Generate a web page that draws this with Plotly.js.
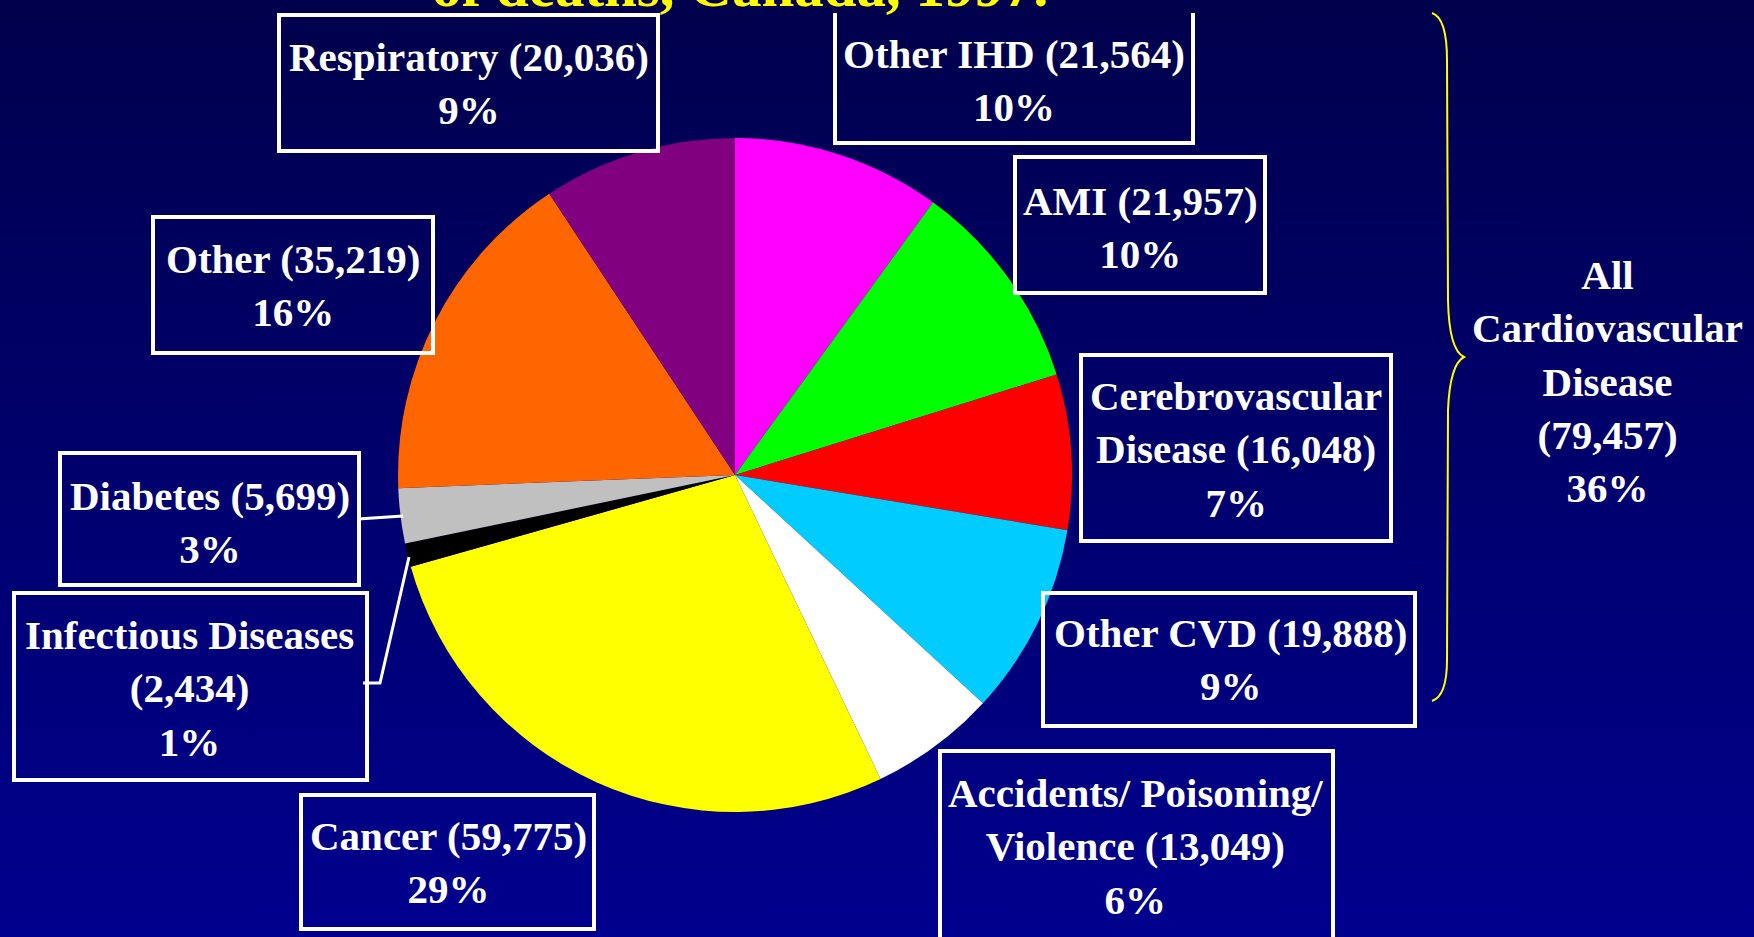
<!DOCTYPE html>
<html>
<head>
<meta charset="utf-8">
<script src="https://cdn.plot.ly/plotly-3.0.1.min.js"></script>
<style>
  html, body { margin: 0; padding: 0; width: 1754px; height: 937px; overflow: hidden; }
  body { background: linear-gradient(to bottom, #00004C 0%, #00008E 100%); }
  #chart { width: 1754px; height: 937px; }
</style>
</head>
<body>
<div id="chart"></div>
<script>
// ---- Data ----
const categories = ["Other IHD", "AMI", "Cerebrovascular Disease", "Other CVD",
  "Accidents/ Poisoning/ Violence", "Cancer", "Infectious Diseases", "Diabetes",
  "Other", "Respiratory"];
const deaths = [21564, 21957, 16048, 19888, 13049, 59775, 2434, 5699, 35219, 20036];
const percents = [10, 10, 7, 9, 6, 29, 1, 3, 16, 9];
const sliceColors = ["#FF00FF", "#00FF00", "#FF0000", "#00CCFF", "#FFFFFF",
  "#FFFF00", "#000000", "#C0C0C0", "#FF6600", "#800080"];
// how each label's name is broken over lines
const labelNames = ["Other IHD", "AMI", "Cerebrovascular<br>Disease", "Other CVD",
  "Accidents/ Poisoning/<br>Violence", "Cancer", "Infectious Diseases<br>", "Diabetes",
  "Other", "Respiratory"];
const groupName = "All<br>Cardiovascular<br>Disease";
const groupTotal = 79457;
const groupPercent = 36;
const titleText = "of deaths, Canada, 1997.";

// ---- Layout helpers (pixel -> paper) ----
const W = 1754, H = 937;
const px = x => x / W;
const py = y => 1 - y / H;

// label box positions [x0, y0, x1, y1] and text centre [cx, cy], in pixels
const boxes = [
  [835, 13, 1193, 143], [1015, 157, 1265, 293], [1081, 355, 1391, 541], [1043, 593, 1415, 726],
  [940, 751, 1333, 970], [301, 795, 594, 929], [14, 593, 367, 780], [60, 453, 359, 585],
  [153, 217, 433, 353], [279, 15, 658, 151]
];
const textPos = [
  [1014, 80], [1140, 227], [1236, 450], [1230, 659],
  [1135, 846], [448, 862], [189, 688], [210, 522],
  [293, 285], [469, 83]
];

const fmt = n => n.toLocaleString('en-US');

const shapes = [];
boxes.forEach((b, i) => {
  if (i === 0) {
    // open-topped box (top edge hidden under the title)
    shapes.push({type: 'path', xref: 'paper', yref: 'paper',
      path: `M ${px(b[0])} ${py(b[1])} L ${px(b[0])} ${py(b[3])} L ${px(b[2])} ${py(b[3])} L ${px(b[2])} ${py(b[1])}`,
      line: {color: '#FFFFFF', width: 4}});
  } else {
    shapes.push({type: 'rect', xref: 'paper', yref: 'paper',
      x0: px(b[0]), y0: py(b[1]), x1: px(b[2]), y1: py(b[3]),
      line: {color: '#FFFFFF', width: 4}, fillcolor: 'rgba(0,0,0,0)'});
  }
});
// leader lines
const pathFrom = pts => pts.map((p, i) => (i ? 'L ' : 'M ') + px(p[0]) + ' ' + py(p[1])).join(' ');
shapes.push({type: 'path', xref: 'paper', yref: 'paper',
  path: pathFrom([[358, 519], [403, 516]]), line: {color: '#FFFFFF', width: 3}});
shapes.push({type: 'path', xref: 'paper', yref: 'paper',
  path: pathFrom([[363, 683], [380, 683], [409, 557]]), line: {color: '#FFFFFF', width: 3}});
// yellow brace
const P = (x, y) => px(x) + ' ' + py(y);
shapes.push({type: 'path', xref: 'paper', yref: 'paper',
  path: `M ${P(1432, 13)} Q ${P(1447, 18)} ${P(1447, 60)} L ${P(1448, 300)} Q ${P(1449, 350)} ${P(1464, 357)} ` +
        `Q ${P(1450, 364)} ${P(1448, 410)} L ${P(1447, 660)} Q ${P(1447, 696)} ${P(1432, 701)}`,
  line: {color: '#FFFF00', width: 2}});

const labelFont = {family: 'Liberation Serif, Times New Roman, serif', size: 41, color: '#FFFFFF'};
const annotations = categories.map((c, i) => {
  let name = labelNames[i];
  let txt = name.endsWith('<br>') ? `${name}(${fmt(deaths[i])})<br>${percents[i]}%`
                                  : `${name} (${fmt(deaths[i])})<br>${percents[i]}%`;
  return {xref: 'paper', yref: 'paper', x: px(textPos[i][0]), y: py(textPos[i][1]),
    xanchor: 'center', yanchor: 'middle', align: 'center', showarrow: false,
    text: '<b>' + txt + '</b>', font: labelFont};
});
annotations.push({xref: 'paper', yref: 'paper', x: px(1607), y: py(381),
  xanchor: 'center', yanchor: 'middle', align: 'center', showarrow: false,
  text: `<b>${groupName}<br>(${fmt(groupTotal)})<br>${groupPercent}%</b>`, font: labelFont});
annotations.push({xref: 'paper', yref: 'paper', x: px(740), y: py(21),
  xanchor: 'center', yanchor: 'bottom', showarrow: false,
  text: '<b>' + titleText + '</b>',
  font: {family: 'Liberation Serif, serif', size: 59, color: '#FFFF00'}});

const trace = {
  type: 'pie',
  labels: categories,
  values: deaths,
  sort: false,
  direction: 'clockwise',
  rotation: 0,
  textinfo: 'none',
  hoverinfo: 'label+value+percent',
  marker: {colors: sliceColors, line: {width: 0}},
  domain: {x: [px(398), px(1072)], y: [py(812), py(138)]},
  showlegend: false
};

const layout = {
  width: W, height: H,
  margin: {l: 0, r: 0, t: 0, b: 0},
  paper_bgcolor: 'rgba(0,0,0,0)',
  plot_bgcolor: 'rgba(0,0,0,0)',
  showlegend: false,
  shapes: shapes,
  annotations: annotations
};

Plotly.newPlot('chart', [trace], layout, {displayModeBar: false, staticPlot: true});
</script>
</body>
</html>
